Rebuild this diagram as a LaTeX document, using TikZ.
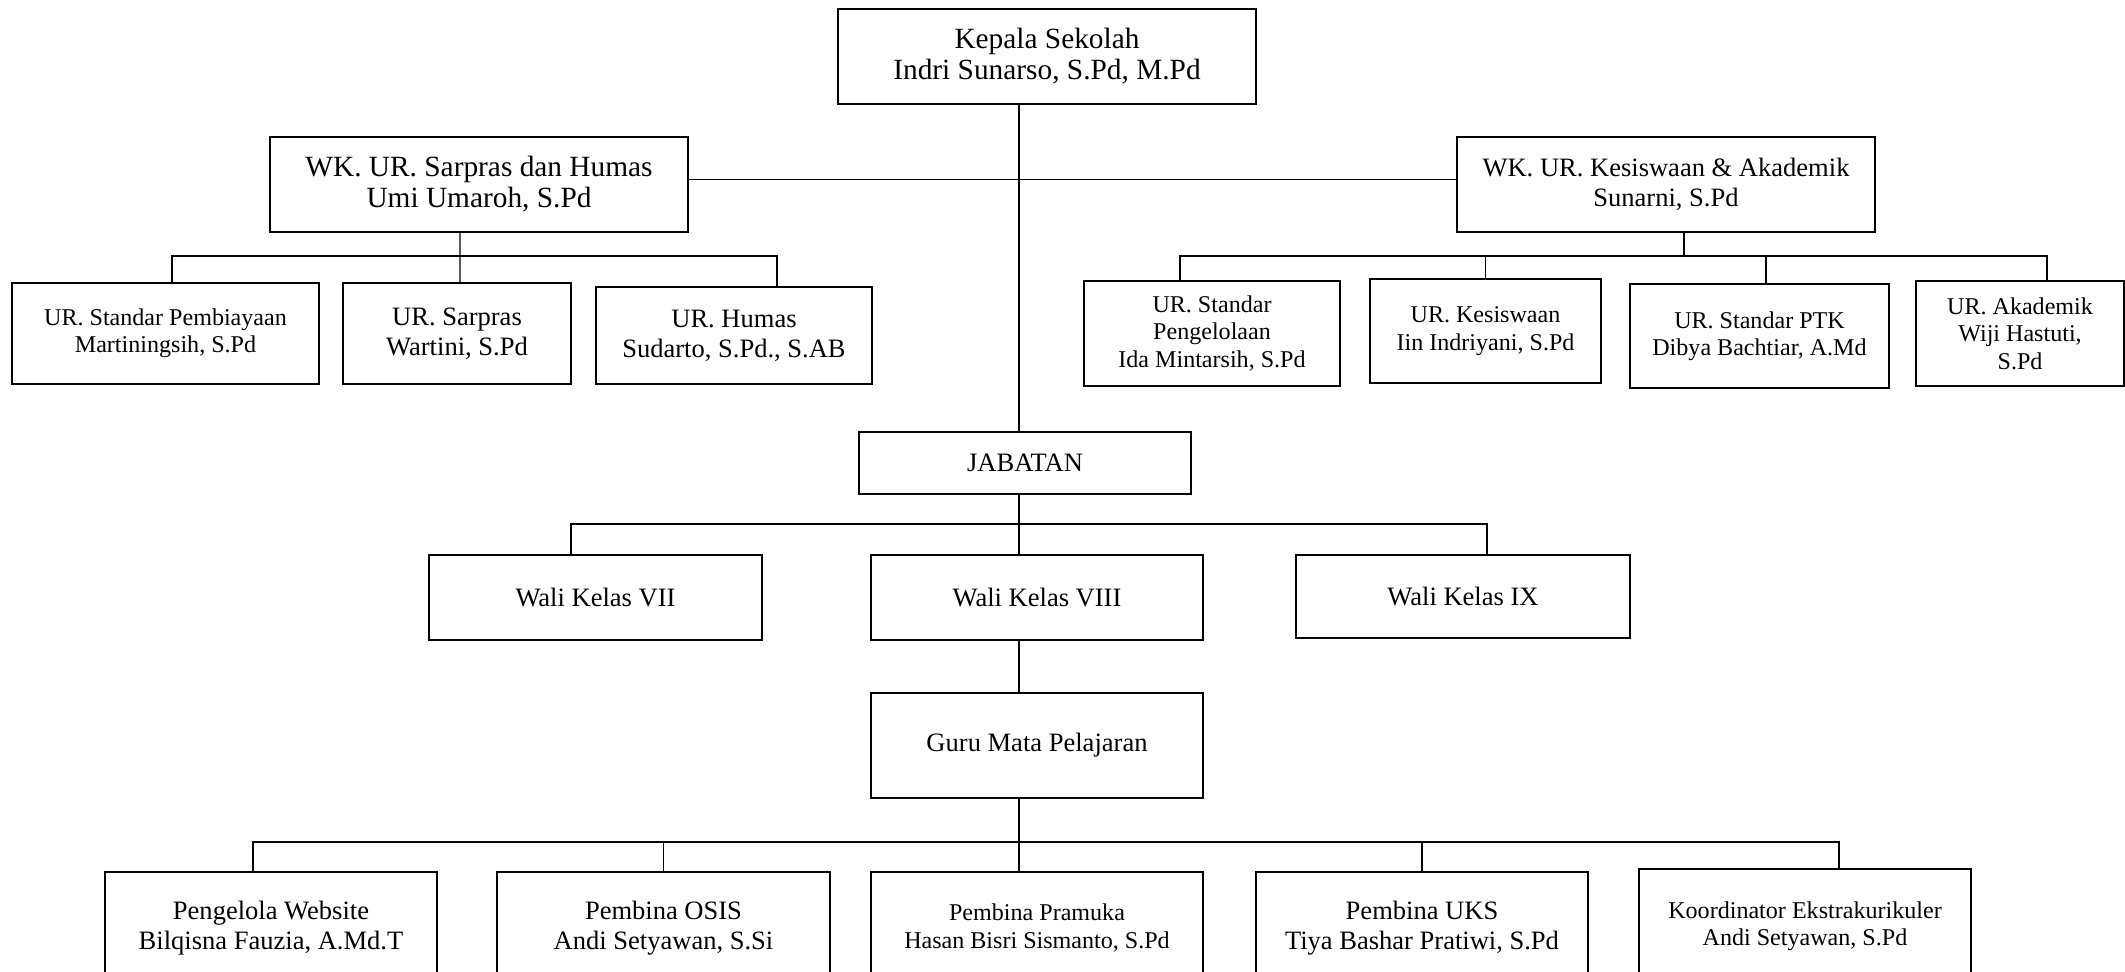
\documentclass[tikz,border=0pt]{standalone}
\usepackage{fontspec}
\setmainfont{Liberation Serif}
\usepackage{tikz}

\tikzset{
	box/.style={draw=black,line width=1.2pt,align=center,inner sep=2pt},
	bigbox/.style={box,font=\fontsize{16.7}{17.6}\selectfont},
	midbox/.style={box,font=\fontsize{15.1}{17.1}\selectfont},
	smallbox/.style={box,font=\fontsize{13.7}{15.6}\selectfont},
	link/.style={draw=black,line width=0.8pt}
}

\begin{document}
\begin{tikzpicture}
	
	\useasboundingbox (0,0) rectangle (42.5,19.42);
	
	\node[bigbox,minimum width=8.36cm,minimum height=1.9cm] (kepala) at (20.94, 18.29) {Kepala Sekolah\\Indri Sunarso, S.Pd, M.Pd};
	\node[bigbox,minimum width=8.36cm,minimum height=1.9cm] (wksar) at (9.58, 15.73) {WK. UR. Sarpras dan Humas\\Umi Umaroh, S.Pd};
	\node[midbox,minimum width=8.36cm,minimum height=1.9cm] (wkkes) at (33.32, 15.73) {WK. UR. Kesiswaan \& Akademik\\Sunarni, S.Pd};
	
	\node[smallbox,minimum width=6.14cm,minimum height=2.02cm] (urbiaya) at (3.31, 12.75) {UR. Standar Pembiayaan\\Martiningsih, S.Pd};
	\node[midbox,minimum width=4.56cm,minimum height=2.02cm] (ursarpras) at (9.14, 12.75) {UR. Sarpras\\Wartini, S.Pd};
	\node[midbox,minimum width=5.52cm,minimum height=1.94cm] (urhumas) at (14.68, 12.71) {UR. Humas\\Sudarto, S.Pd., S.AB};
	
	\node[smallbox,minimum width=5.12cm,minimum height=2.1cm] (urkelola) at (24.24, 12.75) {UR. Standar\\Pengelolaan\\Ida Mintarsih, S.Pd};
	\node[smallbox,minimum width=4.62cm,minimum height=2.08cm] (urkesis) at (29.71, 12.8) {UR. Kesiswaan\\Iin Indriyani, S.Pd};
	\node[smallbox,minimum width=5.18cm,minimum height=2.08cm] (urptk) at (35.19, 12.7) {UR. Standar PTK\\Dibya Bachtiar, A.Md};
	\node[smallbox,minimum width=4.16cm,minimum height=2.1cm] (urakad) at (40.4, 12.75) {UR. Akademik\\Wiji Hastuti,\\S.Pd};
	
	\node[midbox,minimum width=6.64cm,minimum height=1.24cm] (jabatan) at (20.5, 10.16) {JABATAN};
	\node[midbox,minimum width=6.66cm,minimum height=1.7cm] (wali7) at (11.91, 7.47) {Wali Kelas VII};
	\node[midbox,minimum width=6.64cm,minimum height=1.7cm] (wali8) at (20.74, 7.47) {Wali Kelas VIII};
	\node[midbox,minimum width=6.68cm,minimum height=1.66cm] (wali9) at (29.26, 7.49) {Wali Kelas IX};
	\node[midbox,minimum width=6.64cm,minimum height=2.1cm] (guru) at (20.74, 4.51) {Guru Mata Pelajaran};
	
	\node[midbox,minimum width=6.64cm,minimum height=2.24cm] (web) at (5.42, 0.86) {Pengelola Website\\Bilqisna Fauzia, A.Md.T};
	\node[midbox,minimum width=6.66cm,minimum height=2.24cm] (osis) at (13.27, 0.86) {Pembina OSIS\\Andi Setyawan, S.Si};
	\node[smallbox,minimum width=6.64cm,minimum height=2.24cm] (pramuka) at (20.74, 0.86) {Pembina Pramuka\\Hasan Bisri Sismanto, S.Pd};
	\node[midbox,minimum width=6.64cm,minimum height=2.24cm] (uks) at (28.44, 0.86) {Pembina UKS\\Tiya Bashar Pratiwi, S.Pd};
	\node[smallbox,minimum width=6.64cm,minimum height=2.28cm] (ekskul) at (36.1, 0.9) {Koordinator Ekstrakurikuler\\Andi Setyawan, S.Pd};
	
	% main line and brackets
	\coordinate (trunk) at (20.38, 10);
	\coordinate (sarbar) at (9.2, 14.3);
	\coordinate (kesbar) at (33.68, 14.3);
	\coordinate (jabbar) at (20.38, 8.94);
	\coordinate (gurubar) at (20.38, 2.58);
	
	\path[link] (kepala.south -| trunk) edge (jabatan.north -| trunk);
	\path[link] ([yshift=0.1cm]wksar.east) edge ([yshift=0.1cm]wkkes.west);
	
	\path[link] (wksar.south -| sarbar) edge ([xshift=0.06cm]ursarpras.north);
	\draw[link] ([xshift=0.13cm]urbiaya.north) |- (sarbar) -| ([xshift=0.86cm]urhumas.north);
	
	\path[link] (wkkes.south -| kesbar) edge (kesbar);
	\draw[link] ([xshift=-0.64cm]urkelola.north) |- (kesbar) -| ([xshift=0.54cm]urakad.north);
	\path[link] (urkesis.north) edge (urkesis.north |- kesbar);
	\path[link] ([xshift=0.13cm]urptk.north) edge ([xshift=0.13cm]urptk.north |- kesbar);
	
	\path[link] (jabatan.south -| trunk) edge (wali8.north -| trunk);
	\draw[link] ([xshift=-0.49cm]wali7.north) |- (jabbar) -| ([xshift=0.48cm]wali9.north);
	\path[link] (wali8.south -| trunk) edge (guru.north -| trunk);
	
	\path[link] (guru.south -| trunk) edge (pramuka.north -| trunk);
	\draw[link] ([xshift=-0.36cm]web.north) |- (gurubar) -| ([xshift=0.68cm]ekskul.north);
	\path[link] (osis.north) edge (osis.north |- gurubar);
	\path[link] (uks.north) edge (uks.north |- gurubar);
	
\end{tikzpicture}
\end{document}
